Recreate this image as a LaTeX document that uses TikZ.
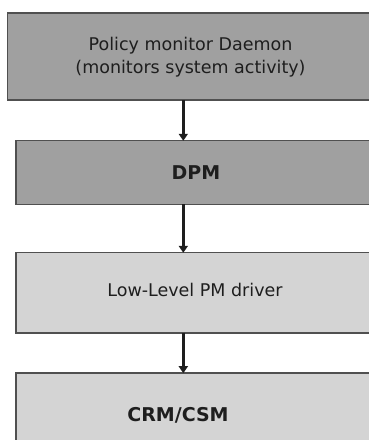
\documentclass[tikz,border=0pt]{standalone}
\usepackage{fontspec}
\setmainfont{DejaVu Sans}
\usetikzlibrary{arrows.meta}

\definecolor{darkfill}{HTML}{A0A0A0}
\definecolor{lightfill}{HTML}{D4D4D4}
\definecolor{edgegray}{HTML}{505050}
\definecolor{inkgray}{HTML}{1E1E1E}

\tikzset{
  layer/.style={draw=edgegray, line width=1.6pt, inner sep=0pt, outer sep=0pt, anchor=north west},
  darklayer/.style={layer, fill=darkfill},
  lightlayer/.style={layer, fill=lightfill},
  plain/.style={text=inkgray, inner sep=0pt, font=\fontsize{17.5}{23}\selectfont, align=center},
  heavy/.style={text=inkgray, inner sep=0pt, font=\fontsize{19}{23}\selectfont\bfseries},
  flow/.style={draw=inkgray, line width=2.6pt, -{Triangle[width=9pt,length=7pt]}, shorten >=-0.5pt}
}

\begin{document}
\begin{tikzpicture}[x=1pt, y=-1pt]
  \useasboundingbox (0,0) rectangle (369,440);
  \clip (0,0) rectangle (369,440);

  % stack of layers, widest at the top, all running past the right edge
  \node[darklayer,  minimum width=380pt, minimum height=87.3pt] (daemon) at (7.5,12.7) {};
  \node[darklayer,  minimum width=372pt, minimum height=64pt]   (dpm)    at (15.7,140.3) {};
  \node[lightlayer, minimum width=372pt, minimum height=80.4pt] (llpm)   at (15.7,252.3) {};
  \node[lightlayer, minimum width=372pt, minimum height=90pt]   (crm)    at (15.7,372.7) {};

  % labels
  \node[plain] (daemontxt) at (190.5,57.5) {Policy monitor Daemon\\(monitors system activity)};
  \node[heavy] (dpmtxt)    at (196,172.5) {DPM};
  \node[plain] (llpmtxt)   at (195,289.5) {Low-Level PM driver};
  \node[heavy] (crmtxt)    at (178,415) {CRM/CSM};

  % downward connectors
  \coordinate (lane) at (183.3,0);
  \draw[flow] (daemon.south -| lane) -- (dpm.north -| lane);
  \draw[flow] (dpm.south -| lane) -- (llpm.north -| lane);
  \draw[flow] (llpm.south -| lane) -- (crm.north -| lane);
\end{tikzpicture}
\end{document}
